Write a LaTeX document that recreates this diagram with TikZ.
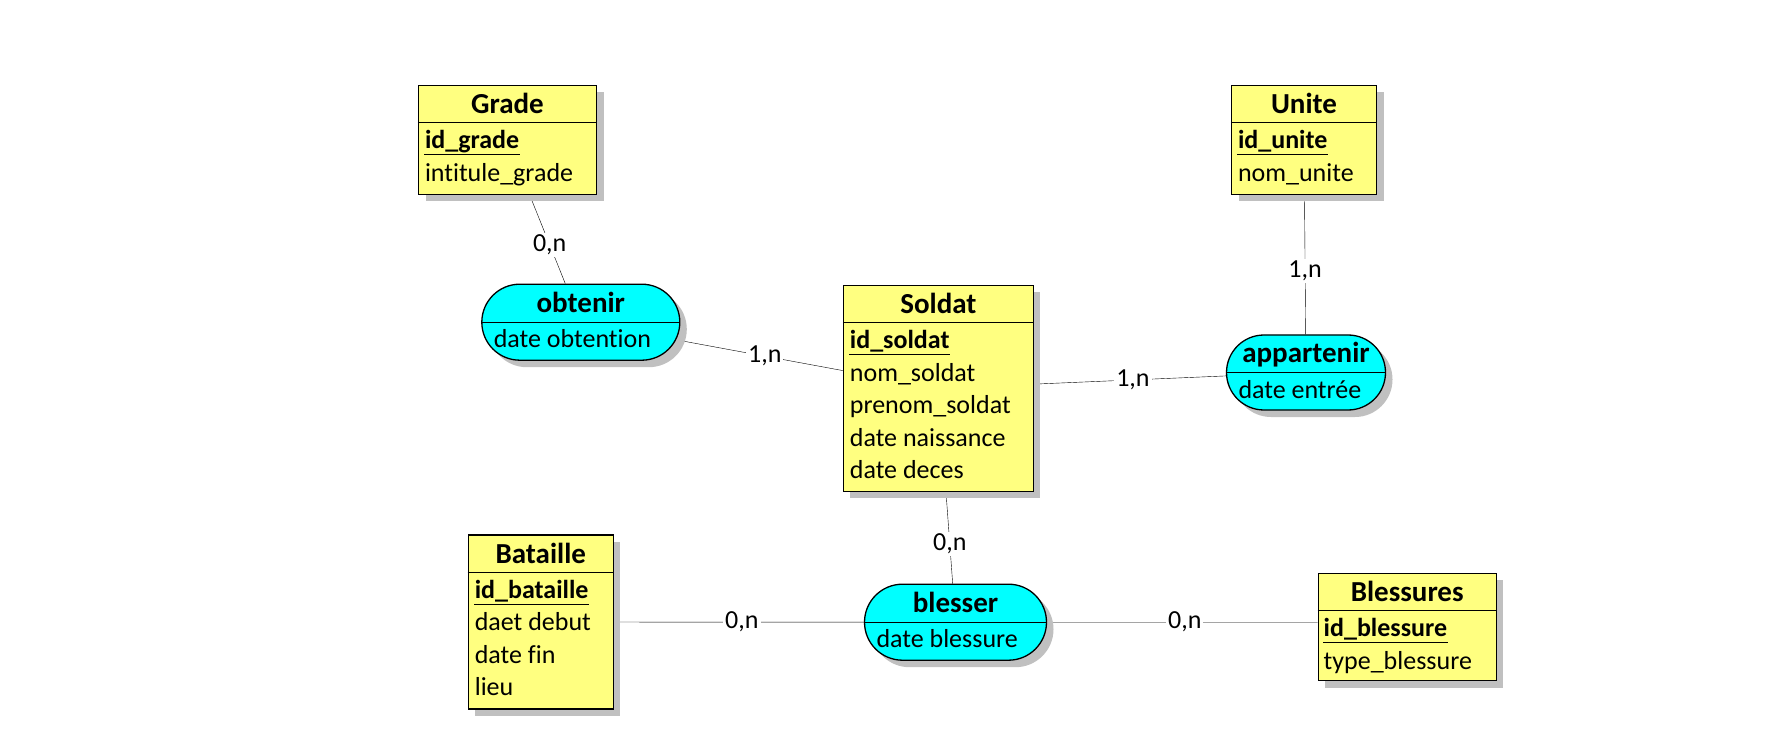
\documentclass[tikz,border=0pt]{standalone}
\usepackage{fontspec}
\setmainfont{Carlito}[Ligatures=NoCommon]
\usetikzlibrary{shapes.misc,shadows,calc,backgrounds}

\definecolor{entityyellow}{RGB}{255,255,128}
\definecolor{assoccyan}{RGB}{0,255,255}
\definecolor{shadowgray}{RGB}{192,192,192}

\tikzset{every picture/.style={line width=1.3pt}}
\tikzset{
  boxshadow/.style={drop shadow={shadow xshift=7pt,shadow yshift=-7pt,opacity=1,fill=shadowgray}},
  entity/.style={draw, fill=entityyellow, rectangle, inner sep=0pt, boxshadow},
  assoc/.style={draw, fill=assoccyan, rounded rectangle, inner sep=0pt, boxshadow},
  title/.style={anchor=base, inner sep=0pt, font=\fontsize{29}{34}\selectfont\bfseries},
  key/.style={anchor=base west, inner sep=0pt, font=\fontsize{26}{31}\selectfont\bfseries},
  attr/.style={anchor=base west, inner sep=0pt, font=\fontsize{26}{31}\selectfont},
  card/.style={fill=white, inner sep=2pt, font=\fontsize{26}{31}\selectfont}
}

\begin{document}
\begin{tikzpicture}[x=1pt,y=1pt,yscale=-1,xscale=1]
\useasboundingbox (0,0) rectangle (1778,751);

%Shape: Entity Grade
\node[entity, minimum width=178, minimum height=109] (grade) at (507.5,139.7) {};
\draw ($(grade.north west)+(0,38)$) -- ($(grade.north east)+(0,38)$);
% Text Node
\node[title] (gradeT) at ($(grade.north)+(0,29)$) {Grade};
\node[key] (gradeK) at ($(grade.north west)+(6.5,64)$) {id\_grade};
\draw ($(gradeK.base west)+(0,6)$) -- ($(gradeK.base east)+(0,6)$);
\node[attr] (gradeA) at ($(grade.north west)+(6.5,96.5)$) {intitule\_grade};

%Shape: Entity Unite
\node[entity, minimum width=145, minimum height=109] (unite) at (1304,139.8) {};
\draw ($(unite.north west)+(0,38)$) -- ($(unite.north east)+(0,38)$);
% Text Node
\node[title] (uniteT) at ($(unite.north)+(0,29)$) {Unite};
\node[key] (uniteK) at ($(unite.north west)+(6.5,64)$) {id\_unite};
\draw ($(uniteK.base west)+(0,6)$) -- ($(uniteK.base east)+(0,6)$);
\node[attr] (uniteA) at ($(unite.north west)+(6.5,96.5)$) {nom\_unite};

%Shape: Entity Soldat
\node[entity, minimum width=190, minimum height=206] (soldat) at (938.4,388.2) {};
\draw ($(soldat.north west)+(0,38)$) -- ($(soldat.north east)+(0,38)$);
% Text Node
\node[title] (soldatT) at ($(soldat.north)+(0,29)$) {Soldat};
\node[key] (soldatK) at ($(soldat.north west)+(6.5,64)$) {id\_soldat};
\draw ($(soldatK.base west)+(0,6)$) -- ($(soldatK.base east)+(0,6)$);
\node[attr] (soldatA1) at ($(soldat.north west)+(6.5,96.5)$) {nom\_soldat};
\node[attr] (soldatA2) at ($(soldat.north west)+(6.5,129)$) {prenom\_soldat};
\node[attr] (soldatA3) at ($(soldat.north west)+(6.5,161.5)$) {date naissance};
\node[attr] (soldatA4) at ($(soldat.north west)+(6.5,194)$) {date deces};

%Shape: Entity Bataille
\node[entity, minimum width=145, minimum height=174] (bataille) at (540.8,622) {};
\draw ($(bataille.north west)+(0,38)$) -- ($(bataille.north east)+(0,38)$);
% Text Node
\node[title] (batailleT) at ($(bataille.north)+(0,29)$) {Bataille};
\node[key] (batailleK) at ($(bataille.north west)+(6.5,64)$) {id\_bataille};
\draw ($(batailleK.base west)+(0,6)$) -- ($(batailleK.base east)+(0,6)$);
\node[attr] (batailleA1) at ($(bataille.north west)+(6.5,96.5)$) {daet debut};
\node[attr] (batailleA2) at ($(bataille.north west)+(6.5,129)$) {date fin};
\node[attr] (batailleA3) at ($(bataille.north west)+(6.5,161.5)$) {lieu};

%Shape: Entity Blessures
\node[entity, minimum width=178, minimum height=107.5] (blessures) at (1407.2,627) {};
\draw ($(blessures.north west)+(0,38)$) -- ($(blessures.north east)+(0,38)$);
% Text Node
\node[title] (blessuresT) at ($(blessures.north)+(0,29)$) {Blessures};
\node[key] (blessuresK) at ($(blessures.north west)+(5.5,64)$) {id\_blessure};
\draw ($(blessuresK.base west)+(0,6)$) -- ($(blessuresK.base east)+(0,6)$);
\node[attr] (blessuresA) at ($(blessures.north west)+(5.5,96.5)$) {type\_blessure};

%Shape: Association obtenir
\node[assoc, minimum width=198, minimum height=76] (obtenir) at (580.8,322.2) {};
\draw (obtenir.west) -- (obtenir.east);
% Text Node
\node[title] (obtenirT) at ($(obtenir.north)+(0,28.5)$) {obtenir};
\node[attr] (obtenirA) at ($(obtenir.west |- obtenir.north)+(12,64)$) {date obtention};

%Shape: Association appartenir
\node[assoc, minimum width=159, minimum height=75] (appartenir) at (1306,372.5) {};
\draw (appartenir.west) -- (appartenir.east);
% Text Node
\node[title] (appartenirT) at ($(appartenir.north)+(0,28.5)$) {appartenir};
\node[attr] (appartenirA) at ($(appartenir.west |- appartenir.north)+(12,64)$) {date entrée};

%Shape: Association blesser
\node[assoc, minimum width=182, minimum height=76] (blesser) at (955.5,622.2) {};
\draw (blesser.west) -- (blesser.east);
% Text Node
\node[title] (blesserT) at ($(blesser.north)+(0,28.5)$) {blesser};
\node[attr] (blesserA) at ($(blesser.west |- blesser.north)+(12,64)$) {date blessure};

%Straight Lines (links, behind the boxes and their shadows)
\begin{scope}[on background layer]
\fill[white] (0,0) rectangle (1778,751);
\draw (grade) -- node[card, pos=0.563] {0,n} (obtenir);
\draw (obtenir) -- node[card, pos=0.532] {1,n} (soldat);
\draw (soldat) -- node[card, pos=0.515] {1,n} (appartenir);
\draw (unite) -- node[card, pos=0.543] {1,n} (appartenir);
\draw (soldat) -- node[card, pos=0.568] {0,n} (blesser);
\draw (bataille) -- node[card, pos=0.512] {0,n} (blesser);
\draw (blesser) -- node[card, pos=0.509] {0,n} (blesser -| blessures.west);
\end{scope}

\end{tikzpicture}
\end{document}
